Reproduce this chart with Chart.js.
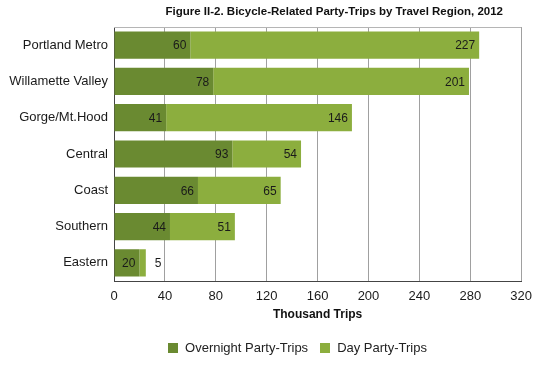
<!DOCTYPE html>
<html>
<head>
<meta charset="utf-8">
<script src="https://cdn.jsdelivr.net/npm/chart.js@4.4.1/dist/chart.umd.min.js"></script>
<style>
    body { margin: 0; background: #ffffff; }
    #wrap { position: relative; width: 540px; height: 371px; font-family: "Liberation Sans", Arial, sans-serif; }
    #title { position: absolute; right: 37px; top: 5px; font-size: 11.5px; font-weight: bold; color: #111; white-space: nowrap; }
    #legend { position: absolute; left: 0; width: 595px; top: 340px; text-align: center; font-size: 13px; color: #222; white-space: nowrap; }
    #legend span.item { margin: 0 6px; }
    #legend span.box { display: inline-block; width: 10px; height: 10px; margin-right: 7px; vertical-align: -1px; }
</style>
</head>
<body>
<div id="wrap">
    <canvas id="chartCanvas" width="540" height="371"></canvas>
    <div id="title">Figure II-2. Bicycle-Related Party-Trips by Travel Region, 2012</div>
    <div id="legend"></div>
</div>
<script>
"use strict";

// Data (thousand trips)
const regions = ["Portland Metro", "Willamette Valley", "Gorge/Mt.Hood", "Central", "Coast", "Southern", "Eastern"];
const overnightTrips = [60, 78, 41, 93, 66, 44, 20];
const dayTrips = [227, 201, 146, 54, 65, 51, 5];

const seriesNames = ["Overnight Party-Trips", "Day Party-Trips"];
const seriesColors = ["#6a8a31", "#8cae3e"];

// Value labels at the inside end of each segment, outside when it is too small
const segmentLabels = {
    id: "segmentLabels",
    afterDatasetsDraw(chart) {
        const c = chart.ctx;
        c.save();
        c.font = "12px 'Liberation Sans', Arial, sans-serif";
        c.fillStyle = "#1a1a1a";
        c.textBaseline = "middle";
        chart.data.datasets.forEach((ds, i) => {
            chart.getDatasetMeta(i).data.forEach((bar, j) => {
                const txt = String(ds.data[j]);
                const w = c.measureText(txt).width;
                const segW = Math.abs(bar.x - bar.base);
                if (segW < w + 8) {
                    c.textAlign = "left";
                    c.fillText(txt, bar.x + 9, bar.y + 1);
                } else {
                    c.textAlign = "right";
                    c.fillText(txt, bar.x - 4, bar.y + 1);
                }
            });
        });
        c.restore();
    }
};

// Light top border of the plot area
const topBorder = {
    id: "topBorder",
    beforeDatasetsDraw(chart) {
        const a = chart.chartArea;
        const c = chart.ctx;
        c.save();
        c.strokeStyle = "#b5b5b5";
        c.lineWidth = 1;
        c.beginPath();
        c.moveTo(a.left, a.top + 0.5);
        c.lineTo(a.right, a.top + 0.5);
        c.stroke();
        c.restore();
    }
};

function buildLegend() {
    const legend = document.getElementById("legend");
    seriesNames.forEach((name, i) => {
        const item = document.createElement("span");
        item.className = "item";
        const box = document.createElement("span");
        box.className = "box";
        box.style.background = seriesColors[i];
        item.appendChild(box);
        item.appendChild(document.createTextNode(name));
        legend.appendChild(item);
    });
}

const config = {
    type: "bar",
    data: {
        labels: regions,
        datasets: [{
            label: seriesNames[0],
            data: overnightTrips,
            backgroundColor: seriesColors[0],
            barPercentage: 0.75,
            categoryPercentage: 1.0
        },
        {
            label: seriesNames[1],
            data: dayTrips,
            backgroundColor: seriesColors[1],
            barPercentage: 0.75,
            categoryPercentage: 1.0
        }]
    },
    options: {
        indexAxis: "y",
        responsive: false,
        animation: false,
        layout: {padding: {top: 27, right: 18, left: 0, bottom: 49}},
        plugins: {
            legend: {display: false},
            title: {display: false},
            tooltip: {enabled: false}
        },
        scales: {
            x: {
                stacked: true,
                min: 0,
                max: 320,
                ticks: {stepSize: 40, padding: 8, color: "#1a1a1a", font: {size: 13, family: "'Liberation Sans', Arial, sans-serif"}},
                grid: {color: "#a0a0a0", drawTicks: false},
                border: {color: "#444444", width: 1},
                title: {display: true, text: "Thousand Trips", color: "#111", padding: {top: -5, bottom: 0},
                        font: {size: 12, weight: "bold", family: "'Liberation Sans', Arial, sans-serif"}}
            },
            y: {
                stacked: true,
                ticks: {padding: 6, color: "#1a1a1a", font: {size: 13, family: "'Liberation Sans', Arial, sans-serif"}},
                grid: {display: false, drawTicks: false},
                border: {color: "#444444", width: 1},
                afterFit(scale) { scale.width = 114; }
            }
        }
    },
    plugins: [topBorder, segmentLabels]
};

buildLegend();
const chart = new Chart(document.getElementById("chartCanvas").getContext("2d"), config);
</script>
</body>
</html>
